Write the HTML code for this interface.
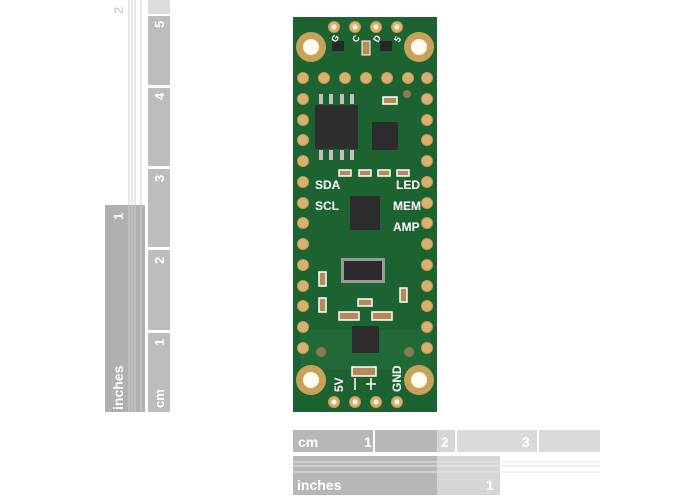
<!DOCTYPE html>
<html><head><style>
html,body{margin:0;padding:0;background:#fff;width:700px;height:500px;overflow:hidden}
svg{display:block}
text{font-family:"Liberation Sans",sans-serif}
</style></head><body>
<svg width="700" height="500" viewBox="0 0 700 500" xmlns="http://www.w3.org/2000/svg">
<!-- left vertical rulers -->
<g>
  <rect x="148" y="0" width="22" height="14" fill="#dcdcdc"/>
  <rect x="148" y="16" width="22" height="69" fill="#bdbdbd"/>
  <rect x="148" y="88" width="22" height="78" fill="#bdbdbd"/>
  <rect x="148" y="169" width="22" height="78" fill="#bdbdbd"/>
  <rect x="148" y="250" width="22" height="80" fill="#bdbdbd"/>
  <rect x="148" y="333" width="22" height="79" fill="#bdbdbd"/>
  <g fill="#fff" font-size="13" font-weight="bold">
    <text transform="translate(164,28) rotate(-90)">5</text>
    <text transform="translate(164,100) rotate(-90)">4</text>
    <text transform="translate(164,182) rotate(-90)">3</text>
    <text transform="translate(164,264) rotate(-90)">2</text>
    <text transform="translate(164,346) rotate(-90)">1</text>
    <text transform="translate(164,408) rotate(-90)">cm</text>
  </g>
  <rect x="105" y="205" width="40" height="207" fill="#b0b0b0"/>
  <g stroke="#cfcfcf" stroke-width="1">
    <line x1="129" y1="0" x2="129" y2="412"/><line x1="132" y1="0" x2="132" y2="412"/>
    <line x1="135" y1="0" x2="135" y2="412"/><line x1="141" y1="0" x2="141" y2="412"/>
  </g>
  <text transform="translate(123,410) rotate(-90)" fill="#fff" font-size="14" font-weight="bold">inches</text>
  <text transform="translate(123,220) rotate(-90)" fill="#fff" font-size="13" font-weight="bold">1</text>
  <text transform="translate(123,14) rotate(-90)" fill="#d0d0d0" font-size="13" font-weight="bold">2</text>
</g>
<!-- bottom rulers -->
<g>
  <rect x="293" y="430" width="80" height="22" fill="#b7b7b7"/>
  <rect x="375" y="430" width="62" height="22" fill="#b7b7b7"/>
  <rect x="437" y="430" width="18" height="22" fill="#d6d6d6"/>
  <rect x="457" y="430" width="80" height="22" fill="#dadada"/>
  <rect x="539" y="430" width="61" height="22" fill="#dadada"/>
  <g fill="#fff" font-size="14" font-weight="bold">
    <text x="298" y="447">cm</text><text x="364" y="447">1</text>
    <text x="441" y="447">2</text><text x="522" y="447">3</text>
  </g>
  <rect x="293" y="456" width="144" height="39" fill="#b7b7b7"/>
  <rect x="437" y="456" width="63" height="39" fill="#d6d6d6"/>
  <g stroke="#e6e6e6" stroke-width="1">
    <line x1="293" y1="462" x2="600" y2="462"/><line x1="293" y1="466" x2="600" y2="466"/>
    <line x1="293" y1="472" x2="600" y2="472"/>
  </g>
  <g fill="#fff" font-size="14" font-weight="bold">
    <text x="297" y="490">inches</text><text x="486" y="490">1</text>
  </g>
</g>
<!-- PCB -->
<rect x="293" y="17" width="144" height="395" fill="#1c6331"/>
<rect x="300" y="330" width="130" height="40" fill="#216a37"/>
<g fill="#c9a25a">
  <circle cx="311" cy="47" r="15"/><circle cx="419" cy="47" r="15"/>
  <circle cx="311" cy="380" r="15"/><circle cx="419" cy="380" r="15"/>
</g>
<g fill="#fdfbf2">
  <circle cx="311" cy="47" r="8"/><circle cx="419" cy="47" r="8"/>
  <circle cx="311" cy="380" r="8"/><circle cx="419" cy="380" r="8"/>
</g>
<g fill="#d8b070" stroke="#c49a52" stroke-width="1">
  <circle cx="334" cy="27" r="5.5"/><circle cx="355" cy="27" r="5.5"/><circle cx="376" cy="27" r="5.5"/><circle cx="397" cy="27" r="5.5"/>
  <circle cx="334" cy="402" r="5.5"/><circle cx="355" cy="402" r="5.5"/><circle cx="376" cy="402" r="5.5"/><circle cx="397" cy="402" r="5.5"/>
  <circle cx="324" cy="78" r="5.5"/><circle cx="345" cy="78" r="5.5"/><circle cx="366" cy="78" r="5.5"/><circle cx="387" cy="78" r="5.5"/><circle cx="408" cy="78" r="5.5"/>
  <circle cx="303" cy="78" r="5.5"/><circle cx="303" cy="99" r="5.5"/><circle cx="303" cy="120" r="5.5"/><circle cx="303" cy="140" r="5.5"/><circle cx="303" cy="161" r="5.5"/><circle cx="303" cy="182" r="5.5"/><circle cx="303" cy="203" r="5.5"/><circle cx="303" cy="223" r="5.5"/><circle cx="303" cy="244" r="5.5"/><circle cx="303" cy="265" r="5.5"/><circle cx="303" cy="286" r="5.5"/><circle cx="303" cy="306" r="5.5"/><circle cx="303" cy="327" r="5.5"/><circle cx="303" cy="348" r="5.5"/>
  <circle cx="427" cy="78" r="5.5"/><circle cx="427" cy="99" r="5.5"/><circle cx="427" cy="120" r="5.5"/><circle cx="427" cy="140" r="5.5"/><circle cx="427" cy="161" r="5.5"/><circle cx="427" cy="182" r="5.5"/><circle cx="427" cy="203" r="5.5"/><circle cx="427" cy="223" r="5.5"/><circle cx="427" cy="244" r="5.5"/><circle cx="427" cy="265" r="5.5"/><circle cx="427" cy="286" r="5.5"/><circle cx="427" cy="306" r="5.5"/><circle cx="427" cy="327" r="5.5"/><circle cx="427" cy="348" r="5.5"/>
</g>
<g fill="#fff6e6">
  <circle cx="334" cy="27" r="2.5"/><circle cx="355" cy="27" r="2.5"/><circle cx="376" cy="27" r="2.5"/><circle cx="397" cy="27" r="2.5"/>
  <circle cx="334" cy="402" r="2.5"/><circle cx="355" cy="402" r="2.5"/><circle cx="376" cy="402" r="2.5"/><circle cx="397" cy="402" r="2.5"/>
</g>
<circle cx="407" cy="94" r="4" fill="#8a7a50"/>
<circle cx="321" cy="352" r="5" fill="#8a7a50"/><circle cx="409" cy="352" r="5" fill="#8a7a50"/>
<!-- chips -->
<rect x="315" y="105" width="43" height="44" fill="#2e2e2e"/>
<g fill="#bfbfbf"><rect x="319" y="94" width="4" height="10"/><rect x="329" y="94" width="4" height="10"/><rect x="340" y="94" width="4" height="10"/><rect x="350" y="94" width="4" height="10"/>
<rect x="319" y="150" width="4" height="10"/><rect x="329" y="150" width="4" height="10"/><rect x="340" y="150" width="4" height="10"/><rect x="350" y="150" width="4" height="10"/></g>
<rect x="372" y="122" width="26" height="28" fill="#2c2c2c"/>
<rect x="350" y="196" width="30" height="34" fill="#2c2c2c"/>
<rect x="341" y="258" width="44" height="25" fill="#9a9a9a"/>
<rect x="344" y="261" width="38" height="19" fill="#2a2a2a"/>
<rect x="352" y="326" width="27" height="27" fill="#2c2c2c"/>
<rect x="332" y="41" width="12" height="10" fill="#262626"/>
<rect x="380" y="41" width="12" height="10" fill="#262626"/>
<rect x="362" y="41" width="8" height="14" fill="#b58a5a" stroke="#fff"/>
<g fill="#b58a5a" stroke="#fff" stroke-width="1.5">
  <rect x="383" y="97" width="14" height="7"/>
  <rect x="339" y="170" width="12" height="6"/><rect x="359" y="170" width="12" height="6"/><rect x="378" y="170" width="12" height="6"/><rect x="397" y="170" width="12" height="6"/>
  <rect x="319" y="272" width="7" height="14"/><rect x="319" y="298" width="7" height="14"/>
  <rect x="400" y="288" width="7" height="14"/>
  <rect x="358" y="299" width="14" height="7"/>
  <rect x="339" y="312" width="20" height="8"/><rect x="372" y="312" width="20" height="8"/>
  <rect x="352" y="367" width="24" height="9"/>
</g>
<g stroke="#fff" stroke-width="1.5" fill="none">
  <path d="M355 378 v12 M371 378 v12 M366 384 h10"/>
</g>
<g fill="#fff" font-size="12" font-weight="bold">
  <text x="315" y="189">SDA</text><text x="396" y="189">LED</text>
  <text x="315" y="210">SCL</text><text x="393" y="210">MEM</text>
  <text x="393" y="231">AMP</text>
  <text transform="translate(343,392) rotate(-90)">5V</text>
  <text transform="translate(401,392) rotate(-90)">GND</text>
  <text transform="translate(336,43) rotate(-60)" font-size="9">G</text>
  <text transform="translate(357,43) rotate(-60)" font-size="9">C</text>
  <text transform="translate(378,43) rotate(-60)" font-size="9">D</text>
  <text transform="translate(399,43) rotate(-60)" font-size="9">5</text>
</g>
</svg>
</body></html>
